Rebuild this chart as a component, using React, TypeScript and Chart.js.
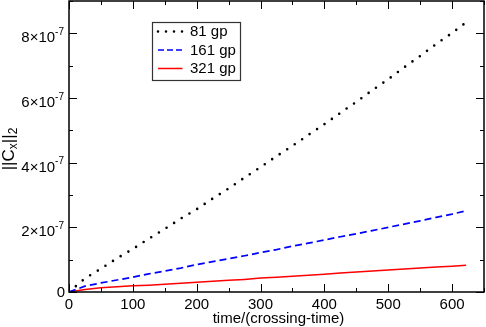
import React, { useEffect, useRef } from "react";
import { Chart, registerables } from "chart.js";

Chart.register(...registerables);

const timeValues = [0, 25, 50, 75, 100, 125, 150, 175, 200, 225, 250, 275, 300, 325, 350, 375, 400, 425, 450, 475, 500, 525, 550, 575, 600, 622];
const gp81 = [0, 0.42e-7, 0.72e-7, 1.04e-7, 1.33e-7, 1.65e-7, 1.95e-7, 2.27e-7, 2.56e-7, 2.89e-7, 3.20e-7, 3.54e-7, 3.86e-7, 4.20e-7, 4.52e-7, 4.86e-7, 5.19e-7, 5.54e-7, 5.88e-7, 6.24e-7, 6.58e-7, 6.95e-7, 7.30e-7, 7.67e-7, 8.01e-7, 8.34e-7];
const gp161 = [0, 0.18e-7, 0.28e-7, 0.37e-7, 0.46e-7, 0.56e-7, 0.65e-7, 0.74e-7, 0.85e-7, 0.94e-7, 1.03e-7, 1.12e-7, 1.22e-7, 1.31e-7, 1.42e-7, 1.51e-7, 1.61e-7, 1.71e-7, 1.80e-7, 1.90e-7, 2.00e-7, 2.10e-7, 2.20e-7, 2.31e-7, 2.41e-7, 2.51e-7];
const gp321 = [0, 0.08e-7, 0.13e-7, 0.16e-7, 0.19e-7, 0.21e-7, 0.24e-7, 0.27e-7, 0.30e-7, 0.33e-7, 0.36e-7, 0.39e-7, 0.43e-7, 0.46e-7, 0.49e-7, 0.52e-7, 0.55e-7, 0.59e-7, 0.62e-7, 0.65e-7, 0.68e-7, 0.71e-7, 0.74e-7, 0.77e-7, 0.80e-7, 0.83e-7];
const seriesLabels = ["81 gp", "161 gp", "321 gp"];
const xMajorTicks = [0, 100, 200, 300, 400, 500, 600];
const xMinorTicks = [50, 150, 250, 350, 450, 550, 650];
const yMajorMantissas = [0, 2, 4, 6, 8];
const yMinorMantissas = [1, 3, 5, 7, 9];
const yExponent = -7;
const xTitle = "time/(crossing-time)";

const FONT = "'Liberation Sans', Arial, sans-serif";

const axesPlugin = {
  id: "graceAxes",
  afterDraw(chart: any) {
    const ctx = chart.ctx as CanvasRenderingContext2D;
    const { left, right, top, bottom } = chart.chartArea;
    const xs = chart.scales.x;
    const ys = chart.scales.y;
    ctx.save();
    // ticks
    ctx.strokeStyle = "#000";
    ctx.lineWidth = 1;
    const major = 8, minor = 4;
    const vTick = (v: number, len: number) => {
      const px = Math.round(xs.getPixelForValue(v)) + 0.5;
      ctx.beginPath();
      ctx.moveTo(px, bottom); ctx.lineTo(px, bottom - len);
      ctx.moveTo(px, top); ctx.lineTo(px, top + len);
      ctx.stroke();
    };
    const hTick = (v: number, len: number) => {
      const py = Math.round(ys.getPixelForValue(v)) + 0.5;
      ctx.beginPath();
      ctx.moveTo(left, py); ctx.lineTo(left + len, py);
      ctx.moveTo(right, py); ctx.lineTo(right - len, py);
      ctx.stroke();
    };
    xMajorTicks.forEach((v) => vTick(v, major));
    xMinorTicks.forEach((v) => vTick(v, minor));
    yMajorMantissas.forEach((m) => hTick(m * Math.pow(10, yExponent), major));
    yMinorMantissas.forEach((m) => hTick(m * Math.pow(10, yExponent), minor));
    // frame
    ctx.lineWidth = 1.5;
    ctx.strokeRect(left, top, right - left, bottom - top);

    ctx.fillStyle = "#000";
    // x labels
    ctx.font = `15px ${FONT}`;
    ctx.textAlign = "center";
    ctx.textBaseline = "alphabetic";
    xMajorTicks.forEach((v) => {
      ctx.fillText(String(v), xs.getPixelForValue(v), bottom + 16.5);
    });
    // x title
    ctx.fillText(xTitle, (left + right) / 2 + 2, bottom + 31);

    // y labels
    yMajorMantissas.forEach((m) => {
      const py = ys.getPixelForValue(m * Math.pow(10, yExponent));
      const xEnd = left - 5;
      if (m === 0) {
        ctx.font = `15px ${FONT}`;
        ctx.textAlign = "right";
        ctx.textBaseline = "alphabetic";
        ctx.fillText("0", xEnd + 1, py + 5);
        return;
      }
      const sup = String(yExponent);
      const main = `${m}×10`;
      ctx.textAlign = "left";
      ctx.textBaseline = "alphabetic";
      ctx.font = `10px ${FONT}`;
      const sw = ctx.measureText(sup).width;
      ctx.font = `15px ${FONT}`;
      const mw = ctx.measureText(main).width;
      ctx.fillText(main, xEnd - sw - mw, py + 9);
      ctx.font = `10px ${FONT}`;
      ctx.fillText(sup, xEnd - sw, py + 1.5);
    });

    // y title ||C_x||_2 rotated
    ctx.save();
    ctx.translate(13.5, 149);
    ctx.rotate(-Math.PI / 2);
    const parts: [string, boolean][] = [["||C", false], ["x", true], ["||", false], ["2", true]];
    let total = 0;
    parts.forEach(([t, sub]) => {
      ctx.font = sub ? `12px ${FONT}` : `17px ${FONT}`;
      total += ctx.measureText(t).width;
    });
    let cx = -total / 2;
    ctx.textAlign = "left";
    ctx.textBaseline = "alphabetic";
    parts.forEach(([t, sub]) => {
      ctx.font = sub ? `12px ${FONT}` : `17px ${FONT}`;
      ctx.fillText(t, cx, sub ? 3.5 : 0);
      cx += ctx.measureText(t).width;
    });
    ctx.restore();

    // legend
    const bx = 152.5, by = 22.5, bw = 88, bh = 58;
    ctx.fillStyle = "#fff";
    ctx.fillRect(bx, by, bw, bh);
    ctx.strokeStyle = "#333";
    ctx.lineWidth = 1.2;
    ctx.strokeRect(bx, by, bw, bh);
    const rows = [31.5, 50, 68.5];
    chart.data.datasets.forEach((ds: any, i: number) => {
      const y = rows[i];
      ctx.save();
      ctx.strokeStyle = ds.borderColor;
      ctx.lineWidth = ds.borderWidth;
      ctx.lineCap = ds.borderCapStyle || "butt";
      ctx.setLineDash(ds.legendDash || []);
      ctx.beginPath();
      ctx.moveTo(158, y);
      ctx.lineTo(182.5, y);
      ctx.stroke();
      ctx.restore();
      ctx.fillStyle = "#000";
      ctx.font = `15px ${FONT}`;
      ctx.textAlign = "left";
      ctx.textBaseline = "middle";
      ctx.fillText(seriesLabels[i], 190, y + 0.5);
    });
    ctx.restore();
  },
};

export default function App() {
  const ref = useRef<HTMLCanvasElement | null>(null);
  useEffect(() => {
    document.body.style.margin = "0";
    const canvas = ref.current!;
    const mk = (vals: number[]) => timeValues.map((t, i) => ({ x: t, y: vals[i] }));
    const chart = new Chart(canvas, {
      type: "line",
      data: {
        datasets: [
          {
            label: seriesLabels[0],
            data: mk(gp81),
            borderColor: "#000000",
            borderWidth: 2.6,
            borderDash: [0, 9],
            borderCapStyle: "round",
            pointRadius: 0,
            tension: 0,
            legendDash: [0, 8],
          } as any,
          {
            label: seriesLabels[1],
            data: mk(gp161),
            borderColor: "#0000ff",
            borderWidth: 1.7,
            borderDash: [7, 4],
            pointRadius: 0,
            tension: 0,
            legendDash: [6, 3],
          } as any,
          {
            label: seriesLabels[2],
            data: mk(gp321),
            borderColor: "#ff0000",
            borderWidth: 1.5,
            pointRadius: 0,
            tension: 0,
            legendDash: [],
          } as any,
        ],
      },
      options: {
        animation: false,
        responsive: false,
        layout: { padding: { left: 69, right: 2, top: 1, bottom: 35 } },
        plugins: { legend: { display: false }, tooltip: { enabled: false } },
        scales: {
          x: { type: "linear", min: 0, max: 650, display: false },
          y: { type: "linear", min: 0, max: 9e-7, display: false },
        },
      },
      plugins: [axesPlugin],
    });
    return () => chart.destroy();
  }, []);
  return (
    <div style={{ position: "absolute", left: 0, top: 0, width: 486, height: 327 }}>
      <canvas ref={ref} width={486} height={327} style={{ width: 486, height: 327 }} />
    </div>
  );
}
